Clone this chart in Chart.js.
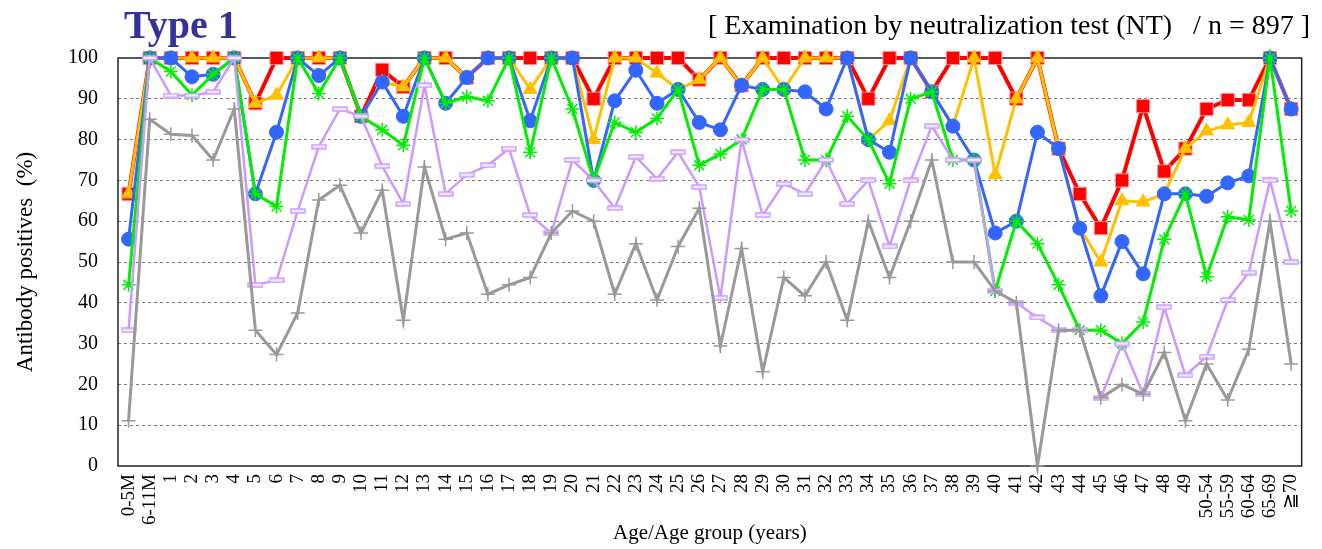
<!DOCTYPE html>
<html><head><meta charset="utf-8">
<script src="https://cdn.jsdelivr.net/npm/chart.js@4.4.0/dist/chart.umd.min.js"></script>
<style>html,body{margin:0;padding:0;background:#fff;}</style>
</head><body>
<canvas id="c" width="1322" height="549"></canvas>
<script>
const titleText = 'Type 1';
const subtitleText = '[ Examination by neutralization test (NT)   / n = 897 ]';
const yTitle = 'Antibody positives  (%)';
const xTitle = 'Age/Age group (years)';

const categories = ['0-5M','6-11M','1','2','3','4','5','6','7','8','9','10','11','12','13','14','15','16','17','18','19','20','21','22','23','24','25','26','27','28','29','30','31','32','33','34','35','36','37','38','39','40','41','42','43','44','45','46','47','48','49','50-54','55-59','60-64','65-69','≧70'];

const seriesRed = [66.7,100,100,100,100,100,88.9,100,100,100,100,85.7,97.1,92.9,100,100,95.2,100,100,100,100,100,90,100,100,100,100,94.7,100,93.3,100,100,100,100,100,90,100,100,91.7,100,100,100,90,100,77.8,66.7,58.3,70,88.2,72.2,77.8,87.5,89.7,89.7,100,87.5];
const seriesOrange = [66.7,100,100,100,100,100,88.9,90.9,100,100,100,85.7,94.1,92.9,100,100,95.2,100,100,92.3,100,100,80,100,100,96.3,92.3,94.7,100,93.3,100,92.3,100,100,100,80,84.6,100,91.7,83.3,100,71.4,90,100,77.8,58.3,50.0,65,64.7,66.7,77.8,82.1,83.6,84.2,100,87.5];
const seriesBlue = [55.6,100,100,95.4,96.0,100,66.7,81.8,100,95.7,100,85.7,94.1,85.7,100,88.9,95.2,100,100,84.6,100,100,70,89.5,97.0,88.9,92.3,84.2,82.4,93.3,92.3,92.3,91.7,87.5,100,80,76.9,100,91.7,83.3,75,57.1,60,81.8,77.8,58.3,41.7,55,47.1,66.7,66.7,66.1,69.4,71.1,100,87.5];
const seriesGreen = [44.4,100,96.7,90.9,96.0,100,66.7,63.6,100,91.3,100,85.7,82.4,78.6,100,88.9,90.5,89.5,100,76.9,100,87.5,70,84.2,81.8,85.2,92.3,73.7,76.5,80.0,92.3,92.3,75.0,75.0,85.7,80,69.2,90,91.7,75.0,75,42.9,60,54.5,44.4,33.3,33.3,30,35.3,55.6,66.7,46.4,61.1,60.3,100,62.5];
const seriesPurple = [33.3,100,90.8,90.8,91.7,100,44.4,45.5,62.5,78.3,87.5,85.7,73.5,64.3,93.3,66.7,71.4,73.7,77.8,61.5,57.1,75.0,70,63.2,75.8,70.4,76.9,68.4,41.2,80.0,61.5,69.2,66.7,75.0,64.3,70,53.8,70,83.3,75.0,75,42.9,40,36.4,33.3,33.3,16.7,30,17.6,38.9,22.2,26.8,40.7,47.4,70,50];
const seriesGray = [11.1,85.0,81.3,81.0,75.0,87.5,33.3,27.3,37.5,65.2,68.8,57.1,67.6,35.7,73.3,55.6,57.1,42.1,44.4,46.2,57.1,62.5,60,42.1,54.5,40.7,53.8,63.2,29.4,53.3,23.1,46.2,41.7,50.0,35.7,60,46.2,60,75.0,50.0,50,42.9,40,0,33.3,33.3,16.7,20,17.6,27.8,11.1,25.0,16.2,28.6,60,25];

// lavender bar marker
const barMarker = document.createElement('canvas');
barMarker.width = 16; barMarker.height = 6;
(function(){const g = barMarker.getContext('2d'); g.fillStyle='#F3E8FF'; g.fillRect(1,1,14,4); g.strokeStyle='#C9A0FF'; g.lineWidth=1.5; g.strokeRect(1,1,14,4);})();

const decor = {
  id: 'decor',
  beforeDatasetsDraw(chart) {
    const {ctx, chartArea: a} = chart;
    ctx.save();
    ctx.strokeStyle = '#222'; ctx.lineWidth = 1.5;
    ctx.strokeRect(a.left, a.top, a.right - a.left, a.bottom - a.top);
    ctx.restore();
  },
  afterDraw(chart) {
    const {ctx} = chart;
    ctx.save();
    ctx.textBaseline = 'alphabetic';
    ctx.font = 'bold 40px "Liberation Serif"';
    ctx.fillStyle = '#333399';
    ctx.textAlign = 'left';
    ctx.fillText(titleText, 124, 38);
    ctx.font = '28px "Liberation Serif"';
    ctx.fillStyle = '#000';
    ctx.textAlign = 'right';
    ctx.fillText(subtitleText, 1310, 34);
    ctx.restore();
  }
};

function ds(label, data, opts) {
  return Object.assign({label, data, tension: 0, clip: false, fill: false}, opts);
}

new Chart(document.getElementById('c'), {
  type: 'line',
  data: {
    labels: categories,
    datasets: [
      ds('Series 1', seriesRed, {borderColor:'#FF0000', backgroundColor:'#FF0000', borderWidth:4, pointStyle:'rect', pointRadius:9.3, pointBackgroundColor:'#FF0000', pointBorderColor:'#FF9090', pointBorderWidth:1, order:6}),
      ds('Series 2', seriesOrange, {borderColor:'#FFC000', backgroundColor:'#FFC000', borderWidth:3, pointStyle:'triangle', pointRadius:8, pointBackgroundColor:'#FFC000', pointBorderColor:'#FFC000', pointBorderWidth:1, order:5}),
      ds('Series 3', seriesBlue, {borderColor:'#3366FF', backgroundColor:'#3366FF', borderWidth:3, pointStyle:'circle', pointRadius:7, pointBackgroundColor:'#3366FF', pointBorderColor:'#3366FF', pointBorderWidth:1, order:4}),
      ds('Series 4', seriesGreen, {borderColor:'#00EE00', backgroundColor:'#00EE00', borderWidth:3, pointStyle:'star', pointRadius:7, pointBorderColor:'#00EE00', pointBorderWidth:1.5, order:3}),
      ds('Series 5', seriesPurple, {borderColor:'#CC99FF', backgroundColor:'#CC99FF', borderWidth:2.5, pointStyle:barMarker, pointRadius:6, order:2}),
      ds('Series 6', seriesGray, {borderColor:'#999999', backgroundColor:'#999999', borderWidth:3, pointStyle:'cross', pointRadius:7, pointBorderColor:'#999999', pointBorderWidth:1.5, order:1})
    ]
  },
  options: {
    responsive: false,
    animation: false,
    events: [],
    layout: {padding: {top: 58, right: 8, left: 0, bottom: 0}},
    plugins: {legend: {display: false}, tooltip: {enabled: false}, title: {display: false}},
    scales: {
      x: {
        type: 'category',
        offset: true,
        grid: {display: false, drawTicks: false},
        border: {display: false},
        ticks: {autoSkip: false, maxRotation: 90, minRotation: 90, color: '#000', padding: 8, font: {family: '"Liberation Serif"', size: 19}},
        title: {display: true, text: xTitle, color: '#000', font: {family: '"Liberation Serif"', size: 21}, padding: {top: 0, bottom: 3}},
        afterFit(s) { s.height = 83; }
      },
      y: {
        min: 0, max: 100,
        grid: {drawTicks: false, lineWidth: 1, color: (c) => (c.tick && (c.tick.value === 0 || c.tick.value === 100)) ? 'rgba(0,0,0,0)' : '#7a7a7a'},
        border: {display: false, dash: [3, 3]},
        ticks: {stepSize: 10, color: '#000', padding: 20, font: {family: '"Liberation Serif"', size: 20}},
        title: {display: true, text: yTitle, color: '#000', font: {family: '"Liberation Serif"', size: 23}, padding: {top: 12, bottom: 0}},
        afterFit(s) { s.width = 118; }
      }
    }
  },
  plugins: [decor]
});
</script>
</body></html>
